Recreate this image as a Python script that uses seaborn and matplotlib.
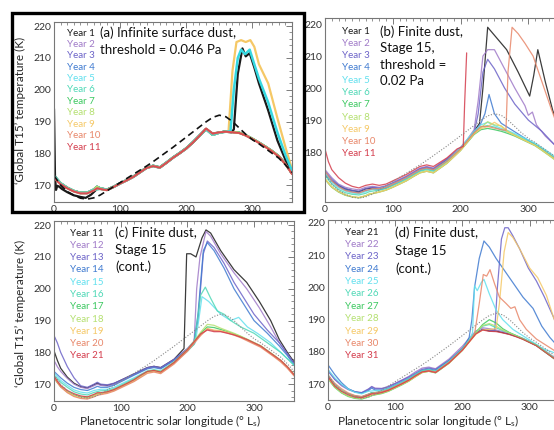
import matplotlib
matplotlib.use("Agg")
import matplotlib.pyplot as plt
from matplotlib.patches import Rectangle
from matplotlib.ticker import MultipleLocator
import seaborn as sns

# common Ls grid for the quiet-year curves
ls_grid = [0, 5, 10, 20, 30, 40, 50, 60, 65, 70,
           80, 90, 100, 110, 120, 130, 140, 150, 160, 170,
           180, 190, 200, 210, 220, 230, 240, 250, 260, 270,
           280, 290, 300, 310, 320, 330, 340, 350, 360]

# reference (dashed / dotted) curve
ref_curve = [173.0, 171.5, 170.0, 168.0, 166.8, 165.9, 165.6, 166.0, 166.4, 166.9,
             168.2, 169.5, 170.8, 172.1, 173.4, 174.7, 176.0, 177.4, 178.9, 180.4,
             181.9, 183.5, 185.1, 186.7, 188.3, 189.9, 191.3, 192.0, 191.5, 190.0,
             188.0, 186.0, 184.3, 183.0, 181.5, 180.0, 178.5, 176.4, 174.0]

year_colors = ["#1a1a1a", "#a07ac8", "#6c63c8", "#3f7ad0", "#62e0ee", "#4fd8b6",
               "#3cc860", "#b4e070", "#f5c866", "#e8876a", "#d43c4c"]

# ---------- panel (a) ----------
a_labels = ["Year %d" % i for i in range(1, 12)]
a_quiet_cool = [173.0, 171.8, 170.6, 169.2, 168.2, 167.6, 167.6, 168.6, 169.5, 169.0,
                168.6, 169.5, 170.6, 171.6, 172.7, 174.1, 175.5, 176.1, 175.6, 177.1,
                178.7, 180.1, 181.6, 183.5, 185.6, 187.6, 185.8, 186.5, 186.9, 186.7,
                186.5, 185.7, 184.6, 183.4, 182.1, 180.7, 179.1, 176.7, 173.7]
a_quiet_warm = [172.5, 171.2, 170.3, 169.0, 168.0, 167.4, 167.4, 168.3, 169.0, 168.8,
                168.4, 169.4, 170.5, 171.5, 172.6, 174.0, 175.4, 176.0, 175.5, 177.0,
                178.6, 180.0, 181.5, 183.4, 185.5, 187.8, 186.2, 186.6, 186.8, 186.6,
                186.4, 185.6, 184.5, 183.3, 182.0, 180.6, 179.0, 176.6, 173.5]
a_y1_ls = [0, 1.5, 3, 5, 8, 12, 20, 30, 40, 48,
           56, 65, 70, 80, 90, 100, 110, 120, 130, 140,
           150, 160, 170, 180, 190, 200, 210, 220, 230, 240,
           250, 260, 268, 272, 278, 285, 290, 296, 303, 310,
           324, 338, 350, 360]
a_y1 = [194, 173, 168.5, 169.8, 169.5, 168.8, 167.8, 166.8, 166.3, 166.0,
        167.0, 168.8, 168.8, 168.5, 169.4, 170.5, 171.5, 172.6, 174.0, 175.4,
        176.0, 175.5, 177.0, 178.6, 180.0, 181.5, 183.4, 185.5, 187.7, 186.2,
        186.6, 186.8, 186.6, 187.5, 205, 213, 210.5, 211.5, 207, 202,
        193.5, 184, 178, 174]
a_y5_ls = [0, 10, 20, 30, 40, 50, 60, 70, 80, 90, 100, 120, 140, 150, 160, 180, 200,
           220, 230, 240, 250, 260, 267, 272, 278, 283, 289, 296, 303, 310, 324, 338, 350, 360]
a_y5 = [172.8, 170.5, 169.1, 168.1, 167.5, 167.5, 168.5, 168.9, 168.5, 169.4, 170.5,
        172.6, 175.4, 176.0, 175.5, 178.6, 181.5, 185.5, 187.6, 185.9, 186.5, 186.8,
        187.0, 200, 210, 212.6, 211.2, 212.6, 208, 203.5, 196, 186.5, 179.5, 174.5]
a_y9_ls = [0, 10, 20, 30, 40, 50, 60, 70, 80, 90, 100, 120, 140, 150, 160, 180, 200,
           220, 230, 240, 250, 260, 264, 270, 276, 283, 290, 297, 303, 310, 324, 338, 350, 360]
a_y9 = [172.8, 170.5, 169.1, 168.1, 167.5, 167.5, 168.5, 168.9, 168.5, 169.4, 170.5,
        172.6, 175.4, 176.0, 175.5, 178.6, 181.5, 185.5, 187.6, 185.9, 186.5, 186.8,
        187.0, 206, 215, 215.6, 215.0, 215.6, 213.5, 208, 202, 191, 182, 175]

# ---------- panel (b) ----------
b_labels = ["Year %d" % i for i in range(1, 12)]
b_y1_ls = [0, 10, 20, 30, 40, 50, 60, 70, 80, 90, 100, 120, 140, 150, 160, 180, 200, 210,
           220, 228, 233, 240, 250, 268, 285, 302, 308, 314, 325, 336, 348, 360]
b_y1 = [173.0, 171.0, 169.5, 168.5, 168.0, 167.6, 168.5, 168.8, 168.5, 169.0, 170.0, 172.0,
        174.5, 175.0, 174.5, 177.5, 181.0, 183.5, 186.5, 189, 200, 219, 216.5, 212, 205,
        197.5, 204, 212, 202, 193, 186, 180]
b_y2_ls = [0, 10, 20, 30, 40, 50, 60, 70, 80, 90, 100, 120, 140, 150, 160, 180, 200, 210,
           220, 226, 233, 240, 250, 265, 280, 295, 300, 306, 312, 325, 340, 360]
b_y2 = [174.5, 172.0, 170.0, 169.0, 168.5, 168.2, 169.0, 169.3, 169.0, 169.5, 170.5, 172.5,
        175.0, 175.5, 175.0, 178.0, 181.5, 184.0, 187.0, 196, 210, 212, 212, 206, 200,
        194.5, 191.5, 192.5, 188.5, 185, 182, 177.5]
b_y3_ls = [0, 10, 20, 30, 40, 50, 60, 70, 80, 90, 100, 120, 140, 150, 160, 180, 200, 210,
           220, 226, 233, 240, 250, 265, 280, 300, 320, 340, 360]
b_y3 = [174.0, 171.5, 169.7, 168.6, 168.0, 167.8, 168.6, 169.0, 168.8, 169.3, 170.3, 172.3,
        174.8, 175.3, 174.8, 177.8, 181.2, 183.6, 186.0, 192, 205, 209, 206, 200, 195,
        190, 186.5, 182, 177]
b_y4_ls = [0, 10, 20, 30, 40, 50, 60, 70, 80, 90, 100, 120, 140, 150, 160, 180, 200, 210,
           220, 230, 236, 242, 250, 260, 275, 290, 305, 320, 340, 360]
b_y4 = [173.2, 171.0, 169.3, 168.2, 167.6, 167.3, 168.0, 168.4, 168.2, 168.7, 169.7, 171.8,
        174.2, 174.8, 174.3, 177.3, 180.8, 183.2, 185.8, 189, 192, 198, 192, 189, 187,
        185, 183, 181, 178, 174.5]
b_y5 = [173.5, 172.0, 170.5, 168.8, 167.8, 167.2, 167.0, 167.6, 168.1, 168.3,
        168.5, 169.1, 170.0, 170.9, 171.9, 173.2, 174.4, 174.8, 174.3, 175.8,
        177.3, 179.3, 181.3, 184.0, 186.5, 188.5, 189.3, 188.3, 187.4, 186.7,
        185.8, 184.8, 183.8, 182.8, 181.4, 180.0, 178.5, 176.4, 174.0]
b_y6 = [172.8, 171.3, 170.0, 168.3, 167.3, 166.8, 166.6, 167.1, 167.6, 167.8,
        168.1, 168.7, 169.6, 170.5, 171.5, 172.8, 174.0, 174.5, 174.0, 175.5,
        177.0, 179.0, 181.0, 183.5, 186.0, 187.8, 188.3, 187.8, 187.0, 186.3,
        185.4, 184.4, 183.4, 182.4, 181.0, 179.5, 178.0, 176.0, 173.6]
b_y7 = [171.5, 170.2, 169.0, 167.5, 166.5, 166.0, 165.7, 166.3, 166.8, 167.0,
        167.5, 168.1, 169.0, 170.0, 171.0, 172.3, 173.5, 174.0, 173.5, 175.0,
        176.5, 178.5, 180.5, 183.0, 185.5, 187.0, 187.4, 187.0, 186.5, 185.8,
        185.0, 184.0, 183.0, 182.0, 180.6, 179.1, 177.6, 175.6, 173.2]
b_y8 = [171.8, 170.4, 169.2, 167.7, 166.7, 166.1, 165.8, 166.4, 166.9, 167.1,
        167.6, 168.2, 169.1, 170.1, 171.1, 172.4, 173.6, 174.1, 173.6, 175.1,
        176.6, 178.6, 180.6, 183.2, 185.8, 187.6, 189.5, 188.5, 188.2, 186.5,
        185.3, 184.2, 183.1, 182.0, 180.5, 179.0, 177.4, 175.4, 173.0]
b_y9 = [171.6, 170.3, 169.1, 167.6, 166.6, 166.0, 165.8, 166.3, 166.8, 167.0,
        167.5, 168.1, 169.0, 170.0, 171.0, 172.3, 173.5, 174.0, 173.5, 175.0,
        176.5, 178.5, 180.5, 183.1, 185.7, 187.3, 188.0, 189.3, 188.0, 186.2,
        185.2, 184.1, 183.1, 182.1, 180.7, 179.2, 177.7, 175.7, 173.3]
b_y10_ls = [0, 10, 20, 30, 40, 50, 60, 70, 80, 90, 100, 120, 140, 150, 160, 180, 200, 220,
            230, 240, 250, 260, 267, 270, 276, 285, 295, 307, 320, 333, 345, 360]
b_y10 = [174.0, 171.0, 169.2, 168.0, 167.5, 167.2, 168.0, 168.5, 168.6, 169.0, 170.0, 172.0,
         174.5, 175.0, 174.5, 177.2, 181.0, 186.0, 188.0, 188.0, 187.5, 187.0, 186.8, 205,
         219, 217, 214, 210, 202, 194, 187, 180]
b_y11_ls = [0, 5, 10, 20, 30, 40, 50, 60, 70, 80, 90, 100, 120, 140, 150, 160, 180, 195,
            204, 206, 209]
b_y11 = [181.0, 177.0, 174.5, 172.0, 170.3, 169.3, 168.8, 169.6, 170.0, 169.6, 170.0, 171.0,
         173.0, 175.5, 176.0, 175.5, 178.2, 181.0, 181.8, 195, 211]

# ---------- panel (c) ----------
c_labels = ["Year %d" % i for i in range(11, 22)]
c_y11_ls = [0, 5, 10, 20, 30, 40, 50, 60, 65, 70, 80, 90, 100, 120, 140, 150, 160, 180, 195,
            199, 205, 213, 222, 228, 235, 250, 270, 289, 308, 325, 338, 350, 360]
c_y11 = [180.5, 177.5, 175.0, 172.2, 170.3, 169.2, 168.8, 169.8, 170.3, 169.8, 169.6, 170.2,
         171.2, 173.2, 175.2, 175.6, 175.2, 177.8, 181.2, 211, 211, 210, 216, 218.5, 217.5,
         212, 206, 202, 196, 190, 184, 180, 177]
c_y12_ls = [0, 5, 10, 20, 30, 40, 50, 60, 65, 70, 80, 90, 100, 120, 140, 150, 160, 180, 200,
            210, 214, 219, 228, 235, 250, 270, 289, 308, 325, 338, 350, 360]
c_y12 = [177.5, 175.5, 174.0, 171.8, 170.0, 169.0, 168.6, 169.5, 170.0, 169.6, 169.4, 170.0,
         171.0, 173.0, 175.0, 175.4, 175.0, 177.6, 181.0, 182.5, 200, 210, 218, 216.5, 211,
         205, 200, 194, 188, 183, 179.5, 176.5]
c_y13_ls = [0, 5, 10, 20, 30, 40, 50, 60, 65, 70, 80, 90, 100, 120, 140, 150, 160, 180, 200,
            210, 216, 224, 230, 240, 255, 270, 285, 300, 320, 338, 350, 360]
c_y13 = [185.3, 183.0, 180.0, 175.5, 172.0, 169.5, 169.0, 170.0, 170.6, 170.0, 169.8, 170.3,
         171.2, 173.2, 175.2, 175.6, 175.2, 177.8, 181.2, 183.5, 190, 211, 215, 213, 208,
         202, 197, 192, 187, 183, 179.5, 176.5]
c_y14 = [174.0, 173.0, 172.0, 170.3, 169.0, 168.3, 168.0, 168.8, 169.3, 169.0, 169.0, 169.7,
         170.7, 172.8, 174.8, 175.2, 174.8, 177.4, 180.8, 183.0, 192, 212, 214.5, 212, 206.5,
         200, 195, 190, 186, 182, 179, 176]
c_y15_ls = [0, 10, 20, 30, 40, 50, 60, 70, 80, 90, 100, 120, 140, 150, 160, 180, 200, 212,
            217, 222, 232, 250, 265, 277, 290, 305, 325, 340, 360]
c_y15 = [173.5, 171.2, 169.6, 168.2, 167.5, 167.2, 168.0, 168.4, 168.4, 169.0, 170.0, 172.0,
         174.2, 174.6, 174.2, 177.0, 180.5, 183, 190, 197.5, 196, 192, 190, 191, 188, 186,
         183, 180, 176]
c_y16_ls = [0, 10, 20, 30, 40, 50, 60, 70, 80, 90, 100, 120, 140, 150, 160, 180, 200, 210,
            215, 220, 227, 235, 245, 255, 265, 280, 300, 320, 340, 360]
c_y16 = [172.8, 170.6, 169.0, 167.6, 166.9, 166.6, 167.4, 167.9, 168.0, 168.6, 169.6, 171.7,
         174.0, 174.4, 174.0, 176.8, 180.3, 182.5, 190, 198, 200.5, 197, 193, 192, 190, 188,
         186, 183, 180, 176]
c_y17 = [172.0, 170.5, 169.2, 167.6, 166.6, 166.0, 165.8, 166.5, 167.0, 167.1,
         167.5, 168.2, 169.2, 170.2, 171.3, 172.6, 173.9, 174.3, 173.8, 175.3,
         176.8, 178.8, 180.8, 183.3, 186.0, 188.0, 187.8, 187.2, 186.5, 185.8,
         185.0, 184.0, 183.0, 182.0, 180.5, 179.0, 177.4, 175.4, 173.0]
c_y18 = [172.2, 170.6, 169.3, 167.7, 166.7, 166.1, 165.9, 166.6, 167.1, 167.2,
         167.6, 168.3, 169.3, 170.3, 171.4, 172.7, 174.0, 174.4, 173.9, 175.4,
         176.9, 178.9, 180.9, 183.5, 186.3, 188.8, 188.5, 187.6, 186.8, 186.0,
         185.1, 184.1, 183.1, 182.1, 180.6, 179.1, 177.5, 175.5, 173.1]
c_y19 = [172.3, 170.7, 169.3, 167.5, 166.3, 165.7, 165.5, 166.2, 166.7, 166.9,
         167.3, 168.0, 169.0, 170.0, 171.0, 172.3, 173.6, 174.0, 173.5, 175.0,
         176.5, 178.5, 180.5, 183.0, 185.5, 187.5, 187.0, 186.8, 186.3, 185.6,
         184.8, 183.8, 182.8, 181.8, 180.3, 178.8, 177.2, 175.2, 172.8]
c_y20 = [172.0, 170.5, 169.1, 167.3, 166.1, 165.5, 165.3, 166.0, 166.5, 166.7,
         167.1, 167.8, 168.8, 169.8, 170.8, 172.1, 173.4, 173.8, 173.3, 174.8,
         176.3, 178.3, 180.3, 182.8, 185.3, 187.3, 186.8, 186.6, 186.1, 185.4,
         184.6, 183.6, 182.6, 181.6, 180.1, 178.6, 177.0, 175.0, 172.6]
year21 = [172.5, 171.0, 169.6, 168.0, 167.0, 166.3, 166.0, 166.8, 167.3, 167.3,
          167.6, 168.3, 169.3, 170.3, 171.4, 172.8, 174.0, 174.3, 173.8, 175.3,
          176.8, 178.8, 180.8, 183.3, 185.8, 187.0, 186.5, 186.5, 186.0, 185.5,
          184.8, 184.0, 183.0, 182.0, 180.5, 179.0, 177.5, 175.5, 173.0]

# ---------- panel (d) ----------
d_labels = ["Year %d" % i for i in range(21, 32)]
d_y22 = [174.5, 173.0, 171.5, 169.5, 168.3, 167.6, 167.3, 168.3, 169.3, 168.8,
         168.7, 169.3, 170.3, 171.3, 172.4, 173.8, 175.0, 175.3, 174.8, 176.3,
         177.8, 179.8, 181.8, 184.2, 186.5, 187.5, 187.2, 186.8, 186.3, 185.8,
         185.0, 184.2, 183.2, 182.2, 180.8, 179.3, 177.8, 175.8, 173.3]
d_y23_ls = [0, 10, 20, 30, 40, 50, 60, 65, 70, 80, 90, 100, 120, 140, 150, 160, 180, 200,
            210, 220, 230, 240, 248, 252, 258, 263, 268, 275, 285, 298, 310, 322, 335, 345, 360]
d_y23 = [174.0, 171.5, 169.8, 168.5, 167.7, 167.4, 168.5, 169.2, 168.6, 168.6, 169.2, 170.2,
         172.2, 174.6, 175.0, 174.6, 177.4, 181.2, 183.5, 185.8, 187.0, 186.8, 186.5, 200,
         215, 218.5, 218.5, 216, 212, 206, 202, 197, 191, 186, 180]
d_y24_ls = [0, 5, 10, 20, 30, 40, 50, 60, 65, 70, 80, 90, 100, 120, 140, 150, 160, 180, 200,
            210, 214, 218, 225, 232, 240, 250, 270, 290, 305, 318, 330, 345, 360]
d_y24 = [176.0, 174.5, 173.0, 170.5, 168.6, 167.6, 167.2, 168.0, 168.8, 168.2, 168.2, 168.8,
         169.8, 171.8, 174.3, 174.7, 174.3, 177.3, 181.0, 184.5, 190, 200, 209, 214.4, 212.5,
         209, 203, 197, 193.5, 188, 184.5, 181, 178]
d_y25_ls = [0, 10, 20, 30, 40, 50, 60, 70, 80, 90, 100, 120, 140, 150, 160, 180, 200, 210,
            215, 218, 222, 228, 232, 240, 250, 260, 275, 290, 305, 320, 340, 360]
d_y25 = [174.5, 172.0, 170.0, 168.5, 167.5, 167.0, 167.8, 168.0, 168.0, 168.6, 169.6, 171.6,
         174.0, 174.4, 174.0, 177.0, 180.8, 183.5, 186, 200.5, 199, 201.5, 202.5, 198, 193,
         190, 187, 185, 183, 181, 179.5, 176.5]
d_y26 = [173.0, 171.3, 170.0, 168.2, 167.0, 166.4, 166.1, 166.9, 167.4, 167.4,
         167.8, 168.5, 169.5, 170.5, 171.6, 173.0, 174.2, 174.5, 174.0, 175.5,
         177.0, 179.0, 181.0, 183.6, 186.2, 188.0, 188.5, 187.5, 186.6, 185.9,
         185.1, 184.2, 183.2, 182.2, 180.7, 179.2, 177.6, 175.6, 173.2]
d_y27 = [171.8, 170.3, 169.0, 167.3, 166.2, 165.6, 165.4, 166.0, 166.5, 166.7,
         167.1, 167.8, 168.8, 169.8, 170.9, 172.3, 173.6, 174.0, 173.5, 175.0,
         176.5, 178.5, 180.5, 183.2, 186.0, 188.5, 190.0, 189.0, 187.2, 186.0,
         185.0, 184.0, 183.0, 182.0, 180.4, 178.9, 177.3, 175.3, 172.9]
d_y28 = [172.0, 170.4, 169.1, 167.4, 166.3, 165.7, 165.5, 166.1, 166.6, 166.8,
         167.2, 167.9, 168.9, 169.9, 171.0, 172.4, 173.7, 174.1, 173.6, 175.1,
         176.6, 178.6, 180.6, 183.3, 186.0, 188.2, 188.8, 188.0, 186.8, 185.9,
         185.0, 184.0, 183.0, 182.0, 180.5, 179.0, 177.4, 175.4, 173.0]
d_y29_ls = [0, 10, 20, 30, 40, 50, 60, 70, 80, 90, 100, 120, 140, 150, 160, 180, 200, 220,
            230, 240, 250, 255, 262, 268, 275, 285, 300, 312, 325, 335, 345, 360]
d_y29 = [172.0, 169.5, 168.0, 166.8, 166.0, 165.7, 166.4, 167.0, 167.4, 168.0, 169.0, 171.0,
         173.6, 174.0, 173.6, 176.5, 180.5, 185.5, 186.8, 187.0, 187.2, 195, 211, 217, 215.5,
         212, 206, 203, 197.5, 191, 185, 178]
d_y30_ls = [0, 10, 20, 30, 40, 50, 60, 70, 80, 90, 100, 120, 140, 150, 160, 180, 200, 210,
            218, 225, 231, 236, 241, 248, 255, 265, 272, 278, 285, 295, 310, 325, 340, 360]
d_y30 = [172.8, 170.3, 168.6, 167.3, 166.5, 166.2, 166.9, 167.4, 167.7, 168.3, 169.3, 171.3,
         173.8, 174.2, 173.8, 176.8, 180.6, 183.2, 185.5, 195, 204, 203.5, 205.5, 201, 197,
         195, 193.5, 194, 190, 187, 184, 182, 180, 177]
d_y31 = [172.3, 170.8, 169.4, 167.8, 166.7, 166.0, 165.8, 166.5, 167.0, 167.0,
         167.4, 168.1, 169.1, 170.1, 171.2, 172.6, 173.8, 174.1, 173.6, 175.1,
         176.6, 178.6, 180.6, 183.1, 185.6, 186.8, 186.4, 186.3, 185.9, 185.4,
         184.7, 183.9, 182.9, 181.9, 180.4, 178.9, 177.4, 175.4, 172.9]

sns.set_style("white")
plt.rcParams["font.family"] = ["Lato", "DejaVu Sans"]
plt.rcParams["mathtext.default"] = "regular"

W, H = 554, 430
fig = plt.figure(figsize=(W / 100, H / 100), dpi=100)


def px_axes(x0, y0, x1, y1):
    return fig.add_axes([x0 / W, 1 - y1 / H, (x1 - x0) / W, (y1 - y0) / H])


def style_axes(ax, ylim, yticks):
    ax.set_xlim(0, 360)
    ax.set_ylim(*ylim)
    ax.set_xticks([0, 100, 200, 300])
    ax.set_yticks(yticks)
    ax.xaxis.set_minor_locator(MultipleLocator(10))
    ax.yaxis.set_minor_locator(MultipleLocator(2))
    ax.tick_params(which="both", direction="in", top=True, right=True,
                   color="#666666", labelsize=7.5, labelcolor="#333333", pad=2)
    ax.tick_params(which="major", length=4, width=0.6)
    ax.tick_params(which="minor", length=2, width=0.5)
    for s in ax.spines.values():
        s.set_color("#777777")
        s.set_linewidth(0.8)


def line(ax, x, y, color, lw, ls="-", alpha=1.0):
    sns.lineplot(x=x, y=y, ax=ax, color=color, lw=lw, linestyle=ls, alpha=alpha,
                 estimator=None, sort=False, legend=False)


def legend_text(x, y0, dy, labels):
    for i, lab in enumerate(labels):
        fig.text(x / W, 1 - (y0 + i * dy) / H, lab, color=year_colors[i],
                 fontsize=7, va="center", ha="left")


def title_text(x, ys, lines):
    for y, t in zip(ys, lines):
        fig.text(x / W, 1 - y / H, t, fontsize=9.5, va="center", ha="left", color="#111111")


# panel (a)
ax_a = px_axes(54, 22, 292, 202)
for i in [1, 2, 3, 5, 6, 7]:
    line(ax_a, ls_grid, a_quiet_cool, year_colors[i], 1.6)
line(ax_a, a_y1_ls, a_y1, year_colors[0], 1.6)
line(ax_a, a_y9_ls, a_y9, year_colors[8], 1.6)
line(ax_a, a_y5_ls, a_y5, "#35d8e0", 1.8)
line(ax_a, ls_grid, a_quiet_warm, year_colors[9], 1.6)
line(ax_a, ls_grid, a_quiet_warm, year_colors[10], 1.2, alpha=0.8)
line(ax_a, ls_grid, ref_curve, "#111111", 1.2, ls=(0, (4, 2.5)))
style_axes(ax_a, (164.7, 221.3), [170, 180, 190, 200, 210, 220])
fig.add_artist(Rectangle((12 / W, 1 - 212 / H), (304 - 12) / W, (212 - 13) / H,
                         transform=fig.transFigure, fill=False, lw=2.4, ec="black"))
legend_text(67, 33, 11.4, a_labels)
title_text(100, [33, 50], ["(a) Infinite surface dust,", "threshold = 0.046 Pa"])

# panel (b)
ax_b = px_axes(325, 18, 569, 202)
b_series = [(b_y1_ls, b_y1), (b_y2_ls, b_y2), (b_y3_ls, b_y3), (b_y4_ls, b_y4),
            (ls_grid, b_y5), (ls_grid, b_y6), (ls_grid, b_y7), (ls_grid, b_y8),
            (ls_grid, b_y9), (b_y10_ls, b_y10), (b_y11_ls, b_y11)]
for i, (x, y) in enumerate(b_series):
    line(ax_b, x, y, year_colors[i], 0.9, alpha=0.85)
line(ax_b, ls_grid, ref_curve, "#888888", 0.8, ls=(0, (1, 1.5)))
style_axes(ax_b, (164.4, 221.9), [180, 190, 200, 210, 220])
legend_text(342, 31, 12.3, b_labels)
title_text(380, [32, 48, 65, 81], ["(b) Finite dust,", "Stage 15,", "threshold =", "0.02 Pa"])

# panel (c)
ax_c = px_axes(54, 221, 294, 401)
c_series = [(c_y11_ls, c_y11), (c_y12_ls, c_y12), (c_y13_ls, c_y13), (c_y13_ls, c_y14),
            (c_y15_ls, c_y15), (c_y16_ls, c_y16), (ls_grid, c_y17), (ls_grid, c_y18),
            (ls_grid, c_y19), (ls_grid, c_y20), (ls_grid, year21)]
for i, (x, y) in enumerate(c_series):
    line(ax_c, x, y, year_colors[i], 0.9, alpha=0.85)
line(ax_c, ls_grid, ref_curve, "#888888", 0.8, ls=(0, (1, 1.5)))
style_axes(ax_c, (164.7, 221.3), [170, 180, 190, 200, 210, 220])
legend_text(70, 233, 12.3, c_labels)
title_text(115, [233, 250, 267], ["(c) Finite dust,", "Stage 15", "(cont.)"])

# panel (d)
ax_d = px_axes(328, 220, 570, 400)
d_series = [(ls_grid, year21), (ls_grid, d_y22), (d_y23_ls, d_y23), (d_y24_ls, d_y24),
            (d_y25_ls, d_y25), (ls_grid, d_y26), (ls_grid, d_y27), (ls_grid, d_y28),
            (d_y29_ls, d_y29), (d_y30_ls, d_y30), (ls_grid, d_y31)]
for i, (x, y) in enumerate(d_series):
    line(ax_d, x, y, year_colors[i], 0.9, alpha=0.85)
line(ax_d, ls_grid, ref_curve, "#888888", 0.8, ls=(0, (1, 1.5)))
style_axes(ax_d, (165.1, 220.9), [170, 180, 190, 200, 210, 220])
legend_text(345, 232, 12.4, d_labels)
title_text(395, [233, 251, 269], ["(d) Finite dust,", "Stage 15", "(cont.)"])

# axis labels
ylab = "\u2018Global T15\u2019 temperature (K)"
fig.text(20 / W, 1 - 110 / H, ylab, rotation=90, fontsize=8.5, va="center", ha="center")
fig.text(20 / W, 1 - 313 / H, ylab, rotation=90, fontsize=8.5, va="center", ha="center")
xlab = "Planetocentric solar longitude (\u00b0 L$_\\mathregular{s}$)"
fig.text(170 / W, 1 / H, xlab, fontsize=8.5, va="bottom", ha="center")
fig.text(428 / W, 1 / H, xlab, fontsize=8.5, va="bottom", ha="center")

fig.savefig("out.png", dpi=100)
